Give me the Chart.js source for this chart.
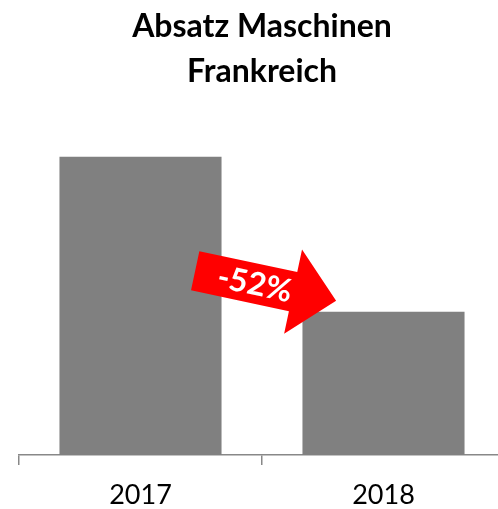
<!DOCTYPE html>
<html>
<head>
<meta charset="utf-8">
<script src="https://cdn.jsdelivr.net/npm/chart.js@4/dist/chart.umd.min.js"></script>
<style>
  html, body { margin: 0; padding: 0; background: #ffffff; overflow: hidden; }
  #wrap { width: 510px; height: 509px; }
</style>
</head>
<body>
<div id="wrap"><canvas id="c" width="510" height="509"></canvas></div>
<script>
// Unit sales of machines in France
const years = ['2017', '2018'];
const sales = [100, 48];
const titleLines = ['Absatz Maschinen', 'Frankreich'];
const changeLabel = Math.round((sales[1] / sales[0] - 1) * 100) + '%';

// Red arrow with the year-over-year change, placed between the two bars
const changeArrow = {
  id: 'changeArrow',
  afterDatasetsDraw(chart) {
    const { ctx, scales } = chart;
    const xs = scales.x, ys = scales.y;
    const xA = xs.getPixelForValue(0), xB = xs.getPixelForValue(1);
    const span = xB - xA;
    const yB = ys.getPixelForValue(sales[1]);
    const tailX = xA + 0.225 * span, tailY = yB - 41;
    const tipX = xA + 0.805 * span, tipY = yB - 11;
    const ang = Math.atan2(tipY - tailY, tipX - tailX);
    const len = Math.hypot(tipX - tailX, tipY - tailY);
    const bodyHalf = 20, headHalf = 43, headLen = 44;
    ctx.save();
    ctx.translate(tailX, tailY);
    ctx.rotate(ang);
    ctx.beginPath();
    ctx.moveTo(0, -bodyHalf);
    ctx.lineTo(len - headLen, -bodyHalf);
    ctx.lineTo(len - headLen, -headHalf);
    ctx.lineTo(len, 0);
    ctx.lineTo(len - headLen, headHalf);
    ctx.lineTo(len - headLen, bodyHalf);
    ctx.lineTo(0, bodyHalf);
    ctx.closePath();
    ctx.fillStyle = '#ff0000';
    ctx.fill();
    ctx.fillStyle = '#ffffff';
    ctx.font = 'bold 32px Lato, "Open Sans", sans-serif';
    ctx.textAlign = 'center';
    ctx.textBaseline = 'middle';
    ctx.fillText(changeLabel, 61, 1);
    ctx.restore();
  }
};

new Chart(document.getElementById('c'), {
  type: 'bar',
  data: {
    labels: years,
    datasets: [{
      data: sales,
      backgroundColor: '#808080',
      borderWidth: 0,
      categoryPercentage: 1,
      barPercentage: 0.667
    }]
  },
  options: {
    responsive: false,
    animation: false,
    layout: { padding: { left: 19, right: 5, top: 0, bottom: 0 } },
    plugins: {
      legend: { display: false },
      tooltip: { enabled: false },
      title: {
        display: true,
        text: titleLines,
        color: '#000000',
        font: { family: 'Lato, "Open Sans", sans-serif', size: 32, weight: 'bold', lineHeight: 1.4 },
        padding: { top: 4.5, bottom: 62.5 }
      }
    },
    scales: {
      x: {
        offset: true,
        border: { display: true, color: '#888888', width: 1.5 },
        grid: { display: true, drawOnChartArea: false, offset: true, tickLength: 10, color: '#888888', lineWidth: 1.5 },
        ticks: { color: '#000000', padding: 14, font: { family: 'Lato, "Open Sans", sans-serif', size: 27 } },
        afterFit(scale) { scale.height = 54; }
      },
      y: {
        display: false,
        min: 0,
        max: 100
      }
    }
  },
  plugins: [changeArrow]
});
</script>
</body>
</html>
